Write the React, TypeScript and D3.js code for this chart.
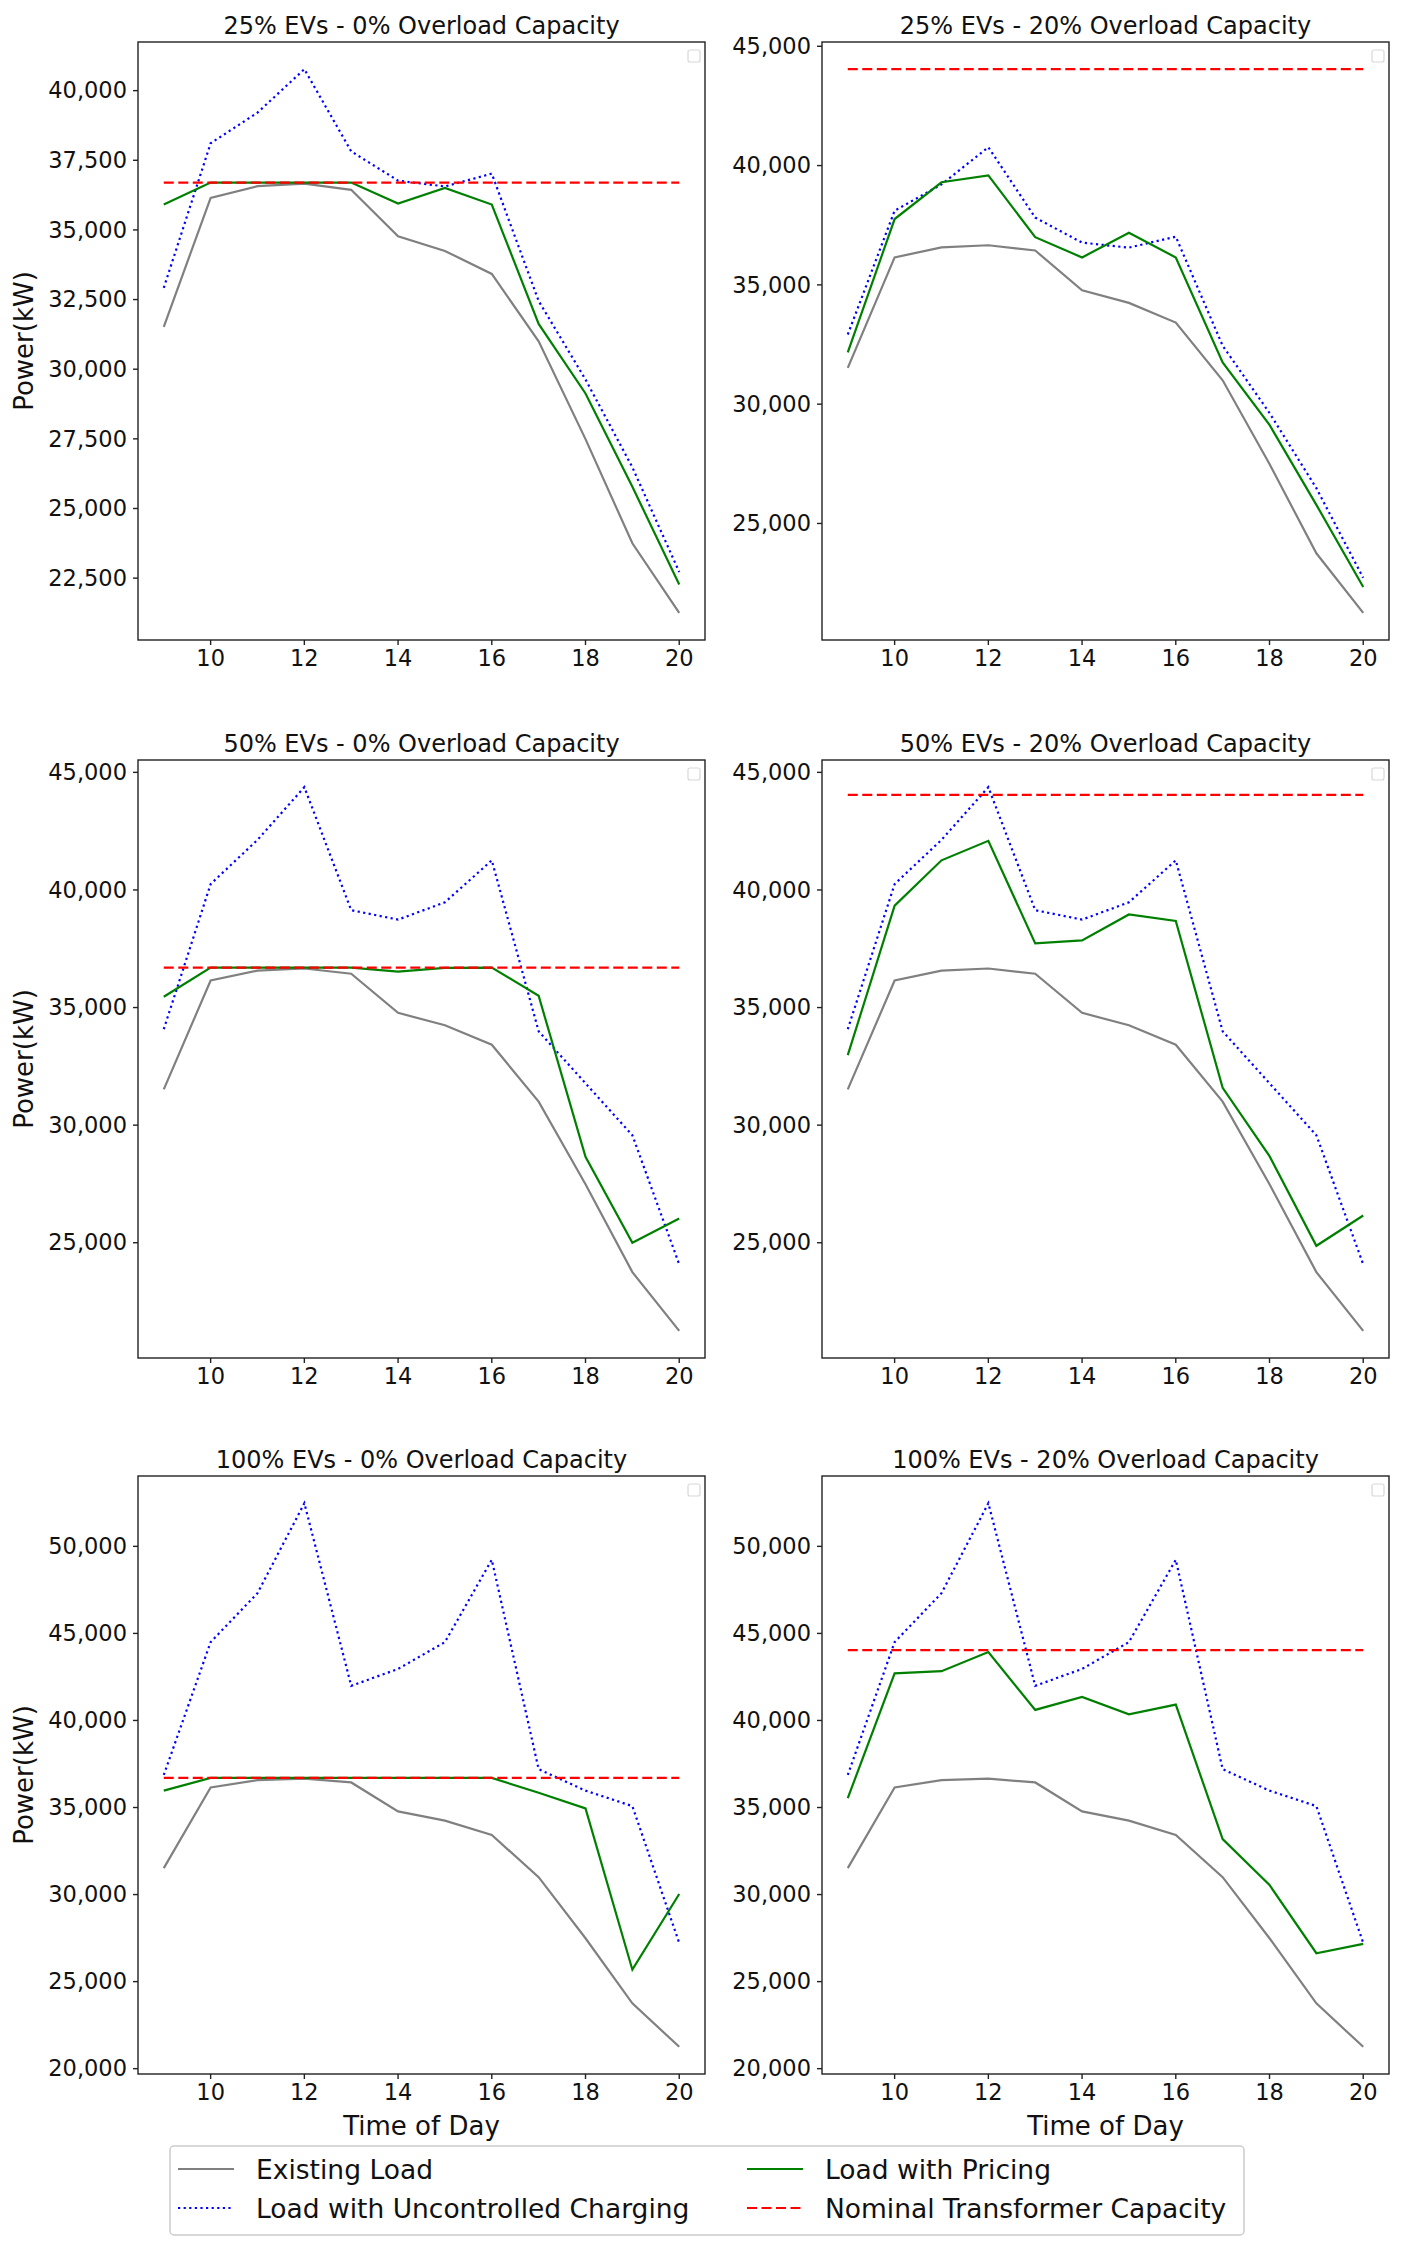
import React from "react";
import * as d3 from "d3";

// hours of the day shown on every panel
const hours = [9, 10, 11, 12, 13, 14, 15, 16, 17, 18, 19, 20];
const xTicks = [10, 12, 14, 16, 18, 20];

// base feeder load (same in every panel)
const existingLoad = [31520, 36150, 36570, 36660, 36440, 34775, 34245, 33420, 31000, 27490, 23750, 21255];

// uncontrolled charging per EV penetration
const uncontrolled25 = [32920, 38110, 39210, 40770, 37820, 36770, 36560, 37020, 32450, 29630, 26480, 22720];
const uncontrolled50 = [34080, 40250, 42130, 44370, 39140, 38740, 39475, 41260, 33990, 31780, 29570, 24080];
const uncontrolled100 = [36870, 44500, 47310, 52480, 41990, 42960, 44500, 49230, 37200, 35970, 35080, 27220];

// load with pricing, per penetration / overload capacity
const pricing25_0 = [35910, 36700, 36700, 36700, 36700, 35950, 36510, 35910, 31625, 29130, 25780, 22270];
const pricing25_20 = [32170, 37760, 39300, 39590, 37000, 36150, 37180, 36150, 31750, 29130, 25780, 22340];
const pricing50_0 = [35460, 36700, 36700, 36700, 36700, 36530, 36690, 36700, 35500, 28650, 25000, 26030];
const pricing50_20 = [32975, 39330, 41260, 42090, 37725, 37855, 38960, 38680, 31590, 28680, 24870, 26160];
const pricing100_0 = [35970, 36700, 36700, 36700, 36700, 36700, 36700, 36700, 35850, 34950, 25685, 30035];
const pricing100_20 = [35540, 42705, 42830, 43930, 40605, 41350, 40350, 40910, 33185, 30550, 26630, 27170];

// nominal transformer capacity: 0% and 20% overload
const capacityLevels = [36700, 44040];

const panelTitles = [
  "25% EVs - 0% Overload Capacity",
  "25% EVs - 20% Overload Capacity",
  "50% EVs - 0% Overload Capacity",
  "50% EVs - 20% Overload Capacity",
  "100% EVs - 0% Overload Capacity",
  "100% EVs - 20% Overload Capacity",
];
const yTickSteps = [2500, 5000, 5000, 5000, 5000, 5000];

const legendLabels = [
  "Existing Load",
  "Load with Uncontrolled Charging",
  "Load with Pricing",
  "Nominal Transformer Capacity",
];

const panels = [
  { uncontrolled: uncontrolled25, pricing: pricing25_0, capacity: capacityLevels[0] },
  { uncontrolled: uncontrolled25, pricing: pricing25_20, capacity: capacityLevels[1] },
  { uncontrolled: uncontrolled50, pricing: pricing50_0, capacity: capacityLevels[0] },
  { uncontrolled: uncontrolled50, pricing: pricing50_20, capacity: capacityLevels[1] },
  { uncontrolled: uncontrolled100, pricing: pricing100_0, capacity: capacityLevels[0] },
  { uncontrolled: uncontrolled100, pricing: pricing100_20, capacity: capacityLevels[1] },
].map((p, i) => ({ ...p, title: panelTitles[i], step: yTickSteps[i] }));

const FONT = "DejaVu Sans";
const colLeft = [138, 822];
const rowTop = [42, 760, 1476];
const PW = 567;
const PH = 598;

type LineStyle = { stroke: string; dash?: string; width: number };
const styles: Record<string, LineStyle> = {
  existing: { stroke: "grey", width: 2.2 },
  uncontrolled: { stroke: "blue", dash: "2.2 3.4", width: 2.2 },
  pricing: { stroke: "green", width: 2.2 },
  capacity: { stroke: "red", dash: "10 4.5", width: 2.2 },
};

const fmt = d3.format(",");

function padded([lo, hi]: [number, number]): [number, number] {
  const p = (hi - lo) * 0.05;
  return [lo - p, hi + p];
}

function Panel(props: {
  x: number;
  y: number;
  title: string;
  uncontrolled: number[];
  pricing: number[];
  capacity: number;
  step: number;
  yLabel: boolean;
  xLabel: boolean;
}) {
  const { x, y, title, uncontrolled, pricing, capacity, step, yLabel, xLabel } = props;
  const xScale = d3
    .scaleLinear()
    .domain(padded(d3.extent(hours) as [number, number]))
    .range([0, PW]);
  const all = existingLoad.concat(uncontrolled, pricing, [capacity]);
  const yDomain = padded(d3.extent(all) as [number, number]);
  const yScale = d3.scaleLinear().domain(yDomain).range([PH, 0]);
  const yTicks = d3.range(Math.ceil(yDomain[0] / step) * step, yDomain[1], step);

  const line = d3
    .line<number>()
    .x((_, i) => xScale(hours[i]))
    .y((d) => yScale(d));

  const series = [
    { data: existingLoad, ...styles.existing },
    { data: uncontrolled, ...styles.uncontrolled },
    { data: pricing, ...styles.pricing },
    { data: hours.map(() => capacity), ...styles.capacity },
  ];

  return (
    <g transform={`translate(${x},${y})`}>
      <text x={PW / 2} y={-8} textAnchor="middle" fontSize={24} fill="#111">
        {title}
      </text>
      {series.map((s, i) => (
        <path
          key={i}
          d={line(s.data) || ""}
          fill="none"
          stroke={s.stroke}
          strokeWidth={s.width}
          strokeDasharray={s.dash}
        />
      ))}
      <rect x={0} y={0} width={PW} height={PH} fill="none" stroke="#222" strokeWidth={1.4} />
      <rect x={PW - 17} y={8} width={12} height={12} rx={2} fill="white" stroke="#d8d8d8" strokeWidth={1.2} />
      {yTicks.map((t) => (
        <g key={t} transform={`translate(0,${yScale(t)})`}>
          <line x1={-5} x2={0} stroke="#222" strokeWidth={1.4} />
          <text x={-11} dy="0.34em" textAnchor="end" fontSize={22.5} fill="#111">
            {fmt(t)}
          </text>
        </g>
      ))}
      {xTicks.map((t) => (
        <g key={t} transform={`translate(${xScale(t)},${PH})`}>
          <line y1={0} y2={5} stroke="#222" strokeWidth={1.4} />
          <text y={10} dy="0.73em" textAnchor="middle" fontSize={22.5} fill="#111">
            {t}
          </text>
        </g>
      ))}
      {yLabel && (
        <text
          transform={`translate(${33 - x},${PH / 2}) rotate(-90)`}
          textAnchor="middle"
          fontSize={26}
          fill="#111"
        >
          Power(kW)
        </text>
      )}
      {xLabel && (
        <text x={PW / 2} y={PH + 61} textAnchor="middle" fontSize={26} fill="#111">
          Time of Day
        </text>
      )}
    </g>
  );
}

export default function App() {
  const legendStyles = [styles.existing, styles.uncontrolled, styles.pricing, styles.capacity];
  const legendPos = [
    { hx: 178, tx: 256, y: 2169 },
    { hx: 178, tx: 256, y: 2208 },
    { hx: 747, tx: 825, y: 2169 },
    { hx: 747, tx: 825, y: 2208 },
  ];
  return (
    <svg
      width={1407}
      height={2246}
      style={{ position: "absolute", left: 0, top: 0, background: "white" }}
      fontFamily={FONT}
    >
      <rect width={1407} height={2246} fill="white" />
      {panels.map((p, i) => (
        <Panel
          key={i}
          x={colLeft[i % 2]}
          y={rowTop[Math.floor(i / 2)]}
          title={p.title}
          uncontrolled={p.uncontrolled}
          pricing={p.pricing}
          capacity={p.capacity}
          step={p.step}
          yLabel={i % 2 === 0}
          xLabel={i >= 4}
        />
      ))}
      <rect x={170} y={2146} width={1074} height={89} rx={4} fill="white" stroke="#cccccc" strokeWidth={1.5} />
      {legendLabels.map((label, i) => (
        <g key={label}>
          <line
            x1={legendPos[i].hx}
            x2={legendPos[i].hx + 56}
            y1={legendPos[i].y}
            y2={legendPos[i].y}
            stroke={legendStyles[i].stroke}
            strokeWidth={legendStyles[i].width}
            strokeDasharray={legendStyles[i].dash}
          />
          <text x={legendPos[i].tx} y={legendPos[i].y + 9.6} fontSize={26.5} fill="#111">
            {label}
          </text>
        </g>
      ))}
    </svg>
  );
}
